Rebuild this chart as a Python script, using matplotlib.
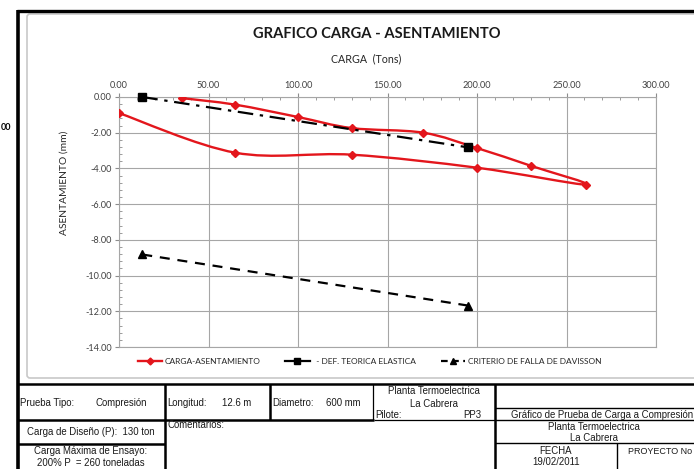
import numpy as np
import matplotlib
matplotlib.use("Agg")
import matplotlib.pyplot as plt
from matplotlib.path import Path
from matplotlib.patches import PathPatch, FancyBboxPatch
from matplotlib.lines import Line2D
from matplotlib.ticker import MultipleLocator, FormatStrFormatter

plt.rcParams['axes.unicode_minus'] = False

# carga (ton) vs asentamiento (mm): loading branch then unloading branch
carga = [35, 65, 100, 130, 170, 200, 230, 261, 200, 130, 65, 0]
asentamiento = [-0.06, -0.43, -1.12, -1.74, -2.00, -2.86, -3.85, -4.91, -3.96, -3.23, -3.12, -0.90]

# deformacion teorica elastica
def_carga = [13, 195]
def_asent = [0.0, -2.82]

# criterio de falla de Davisson
dav_carga = [13, 195]
dav_asent = [-8.82, -11.68]

legend_labels = ["CARGA-ASENTAMIENTO", "  - DEF. TEORICA ELASTICA", "CRITERIO DE FALLA DE DAVISSON"]

W, H = 694, 469
RED = '#e3161c'
CHART_FONT = 'Lato'
TABLE_FONT = 'Liberation Sans'


def smooth_path(xs, ys):
    # Catmull-Rom spline through the points, written as cubic Bezier segments
    pts = np.column_stack((xs, ys)).astype(float)
    ext = np.vstack((pts[0], pts, pts[-1]))
    verts = [pts[0]]
    codes = [Path.MOVETO]
    for i in range(1, len(ext) - 2):
        p0, p1, p2, p3 = ext[i - 1], ext[i], ext[i + 1], ext[i + 2]
        c1 = p1 + (p2 - p0) / 6.0
        c2 = p2 - (p3 - p1) / 6.0
        verts += [c1, c2, p2]
        codes += [Path.CURVE4] * 3
    return Path(verts, codes)


fig = plt.figure(figsize=(W / 100, H / 100), dpi=100)

# page overlay in pixel units for frames and the info table
pg = fig.add_axes([0, 0, 1, 1])
pg.set_xlim(0, W)
pg.set_ylim(H, 0)
pg.axis('off')

# chart area frame
pg.add_patch(FancyBboxPatch((27, 14), 700, 364, boxstyle="round,pad=0,rounding_size=3",
                            fc='white', ec='#c8c8c8', lw=1.2))

ax = fig.add_axes([119 / W, 1 - 347 / H, 537 / W, 250 / H])
ax.set_xlim(0, 300)
ax.set_ylim(-14, 0)
ax.xaxis.set_major_locator(MultipleLocator(50))
ax.xaxis.set_minor_locator(MultipleLocator(10))
ax.yaxis.set_major_locator(MultipleLocator(2))
ax.yaxis.set_minor_locator(MultipleLocator(0.4))
ax.xaxis.set_major_formatter(FormatStrFormatter('%.2f'))
ax.yaxis.set_major_formatter(FormatStrFormatter('%.2f'))
ax.xaxis.tick_top()
ax.tick_params(axis='both', which='major', length=3, width=0.8, color='#8c8c8c',
               labelsize=6.6, labelcolor='#404040', pad=2)
ax.tick_params(axis='both', which='minor', length=2, width=0.6, color='#8c8c8c', direction='in')
for lab in ax.get_xticklabels() + ax.get_yticklabels():
    lab.set_fontfamily(CHART_FONT)
ax.grid(True, which='major', color='#a6a6a6', lw=0.8)
for sp in ax.spines.values():
    sp.set_color('#a6a6a6')
    sp.set_linewidth(0.8)

ax.add_patch(PathPatch(smooth_path(carga, asentamiento), fc='none', ec=RED, lw=1.7, zorder=3))
ax.plot(carga, asentamiento, ls='none', marker='D', ms=4, color=RED, zorder=4)
ax.plot(def_carga, def_asent, color='black', lw=1.6, dashes=(7, 3, 1.5, 3),
        marker='s', ms=5.5, zorder=4, clip_on=False)
ax.plot(dav_carga, dav_asent, color='black', lw=1.6, dashes=(4.5, 3.5),
        marker='^', ms=5.5, zorder=4)

pg.text(377, 34, "GRAFICO CARGA - ASENTAMIENTO", ha='center', va='center',
        fontsize=10.6, fontweight='bold', family=CHART_FONT, color='#1a1a1a')
pg.text(366, 59, "CARGA  (Tons)", ha='center', va='center',
        fontsize=7.7, family=CHART_FONT, color='#262626')
ax.set_ylabel("ASENTAMIENTO (mm)", fontsize=7.4, family=CHART_FONT, color='#262626')
ax.yaxis.set_label_coords((69 - 119) / 537, (347 - 183) / 250)

handles = [
    Line2D([], [], color=RED, lw=1.7, marker='D', ms=3.5),
    Line2D([], [], color='black', lw=1.6, marker='s', ms=5),
    Line2D([], [], color='black', lw=1.6, dashes=(3, 2), marker='^', ms=5),
]
fig.legend(handles, legend_labels, loc='center', bbox_to_anchor=(0.5324, 1 - 361 / H), ncol=3,
           frameon=False, handlelength=2.9, handletextpad=0.3, columnspacing=3.0,
           prop={'family': CHART_FONT, 'size': 6.0}, labelcolor='#262626')

# stray text from the neighbouring sheet
pg.text(0.5, 127, "00", ha='left', va='center', fontsize=6.5, fontweight='bold', family=CHART_FONT)

# outer thick frame
pg.plot([18, 18], [10, H], color='black', lw=2.6, solid_capstyle='butt')
pg.plot([17, W], [11, 11], color='black', lw=2.4, solid_capstyle='butt')

# info table grid
thick, thin = 1.8, 1.0
grid_lines = [
    ([17, W], [384, 384], thick),
    ([17, 374], [420.5, 420.5], thick),
    ([374, 495], [420.5, 420.5], 0.9),
    ([495, W], [420.5, 420.5], thin),
    ([495, W], [408.5, 408.5], thin),
    ([17, 165], [444, 444], thick),
    ([495, W], [443, 443], thin),
    ([165, 165], [384, H], thick),
    ([270, 270], [384, 420.5], thick),
    ([373.5, 373.5], [384, 420.5], 0.9),
    ([495, 495], [384, H], thick),
    ([617, 617], [443, H], thin),
]
for xs, ys, lw in grid_lines:
    pg.plot(xs, ys, color='black', lw=lw, solid_capstyle='butt')

tfs = 6.9
table_text = [
    (20, 403, "Prueba Tipo:", 'left', tfs),
    (121, 403, "Compresión", 'center', tfs),
    (167, 403, "Longitud:", 'left', tfs),
    (237, 403, "12.6 m", 'center', tfs),
    (272, 403, "Diametro:", 'left', tfs),
    (343, 403, "600 mm", 'center', tfs),
    (434, 391, "Planta Termoelectrica", 'center', tfs),
    (434, 404, "La Cabrera", 'center', tfs),
    (375, 415.5, "Pilote:", 'left', tfs),
    (481, 415.5, "PP3", 'right', tfs),
    (91, 432, "Carga de Diseño (P):  130 ton", 'center', tfs),
    (168, 425.5, "Comentarios:", 'left', tfs),
    (91, 451, "Carga Máxima de Ensayo:", 'center', tfs),
    (91, 462.5, "200% P  = 260 toneladas", 'center', tfs),
    (511, 414.5, "Gráfico de Prueba de Carga a Compresión", 'left', tfs),
    (594, 427, "Planta Termoelectrica", 'center', tfs),
    (594, 438, "La Cabrera", 'center', tfs),
    (556, 451, "FECHA", 'center', tfs),
    (556, 462, "19/02/2011", 'center', tfs),
    (628, 451, "PROYECTO No", 'left', 6.5),
]
for x, y, s, ha, fs in table_text:
    pg.text(x, y, s, ha=ha, va='center', fontsize=fs, family=TABLE_FONT, color='#1a1a1a',
            clip_on=True)

fig.savefig("out.png", dpi=100)
